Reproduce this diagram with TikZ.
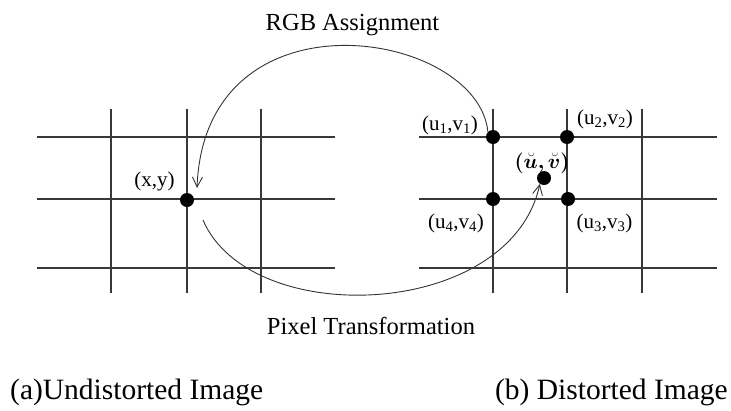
\documentclass[tikz,border=0pt]{standalone}
\usepackage{fontspec}
\setmainfont{Liberation Serif}
\usepackage{bm}
\usetikzlibrary{arrows.meta}
\begin{document}
\begin{tikzpicture}[x=1pt,y=-1pt,
  gridline/.style={line width=2pt, draw=black!78},
  dot/.style={circle, fill=black, inner sep=0pt, minimum size=14pt},
  lbl/.style={inner sep=0pt, anchor=base, font=\fontsize{21}{25}\selectfont},
  ttl/.style={inner sep=0pt, anchor=base, font=\fontsize{24.5}{29}\selectfont},
  capt/.style={inner sep=0pt, font=\fontsize{29.5}{34}\selectfont},
  arc/.style={line width=0.9pt, draw=black!80, -{Straight Barb[length=10pt,width=10pt,line width=0.9pt]}}]
\useasboundingbox (0,0) rectangle (731,410);

% left grid
\foreach \y in {137,199,268} \draw[gridline] (37,\y) -- (335,\y);
\foreach \x in {111,187,261} \draw[gridline] (\x,109) -- (\x,293);
% right grid
\foreach \y in {137,199,268} \draw[gridline] (419,\y) -- (717,\y);
\foreach \x in {493,567,642} \draw[gridline] (\x,109) -- (\x,293);

% dots
\node[dot] (xy) at (187,200) {};
\node[dot] (u1) at (493,137) {};
\node[dot] (u2) at (567,137) {};
\node[dot] (u4) at (493,199) {};
\node[dot] (u3) at (568,199) {};
\node[dot] (uv) at (544,178) {};

% labels
\node[lbl] (lxy) at (154.5,186) {(x,y)};
\node[lbl] (lu1) at (450,130) {(u\textsubscript{1},v\textsubscript{1})};
\node[lbl] (lu2) at (605,124) {(u\textsubscript{2},v\textsubscript{2})};
\node[lbl] (luv) at (542,168) {$\bm{(\breve{u},\breve{v})}$};
\node[lbl] (lu4) at (456,228) {(u\textsubscript{4},v\textsubscript{4})};
\node[lbl] (lu3) at (604.5,228) {(u\textsubscript{3},v\textsubscript{3})};

\node[ttl] (rgb) at (352.5,30) {RGB Assignment};
\node[ttl] (pix) at (371,334) {Pixel Transformation};

\node[capt, anchor=base west] (capa) at (10,399) {(a)Undistorted Image};
\node[capt, anchor=base east] (capb) at (728,399) {(b) Distorted Image};

% arcs
\coordinate (topend) at (197,188);
\coordinate (botstart) at (203,220);
\draw[arc] (u1.north west) .. controls (478,30) and (205,-15) .. (topend);
\draw[arc] (botstart) .. controls (250,330) and (510,320) .. (uv.235);
\end{tikzpicture}
\end{document}
